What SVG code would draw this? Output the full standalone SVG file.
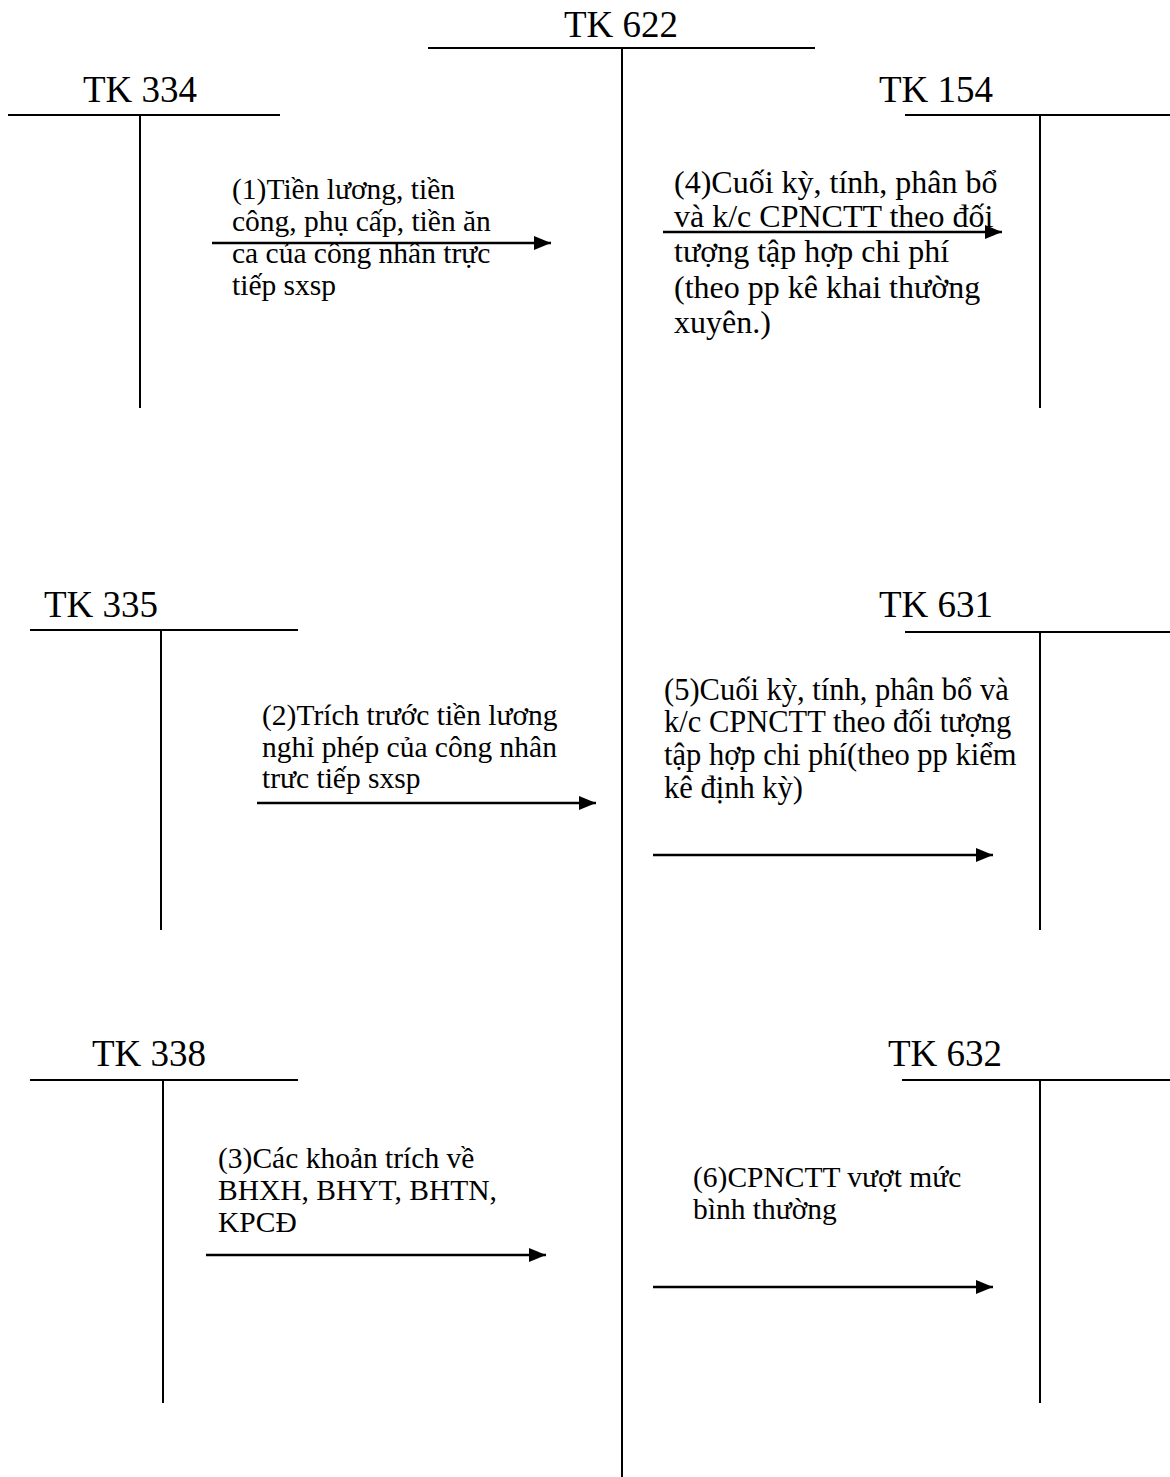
<svg xmlns="http://www.w3.org/2000/svg" width="1170" height="1477" viewBox="0 0 1170 1477">
<style>
.title{font-family:"Liberation Serif","Times New Roman",serif;font-size:37px;fill:#000}
.lbl{font-family:"Liberation Serif","Times New Roman",serif;font-size:29.5px;fill:#000}
.big{font-size:32px}
.mid{font-size:30.5px}
.acc{stroke:#000;stroke-width:2;fill:none}
.arr{stroke:#000;stroke-width:2.5;fill:none;marker-end:url(#ah)}
</style>
<defs>
<marker id="ah" markerUnits="userSpaceOnUse" markerWidth="17" markerHeight="14" refX="17" refY="7" orient="auto">
<path d="M0,0 L17,7 L0,14 Z" fill="#000"/>
</marker>
</defs>
<rect width="1170" height="1477" fill="#fff"/>
<g id="tk622">
<text class="title" x="621" y="37" text-anchor="middle">TK 622</text>
<line class="acc" x1="428" y1="48" x2="815" y2="48"/>
<line class="acc" x1="622" y1="48" x2="622" y2="1477"/>
</g>
<g id="tk334">
<text class="title" x="140" y="102" text-anchor="middle">TK 334</text>
<line class="acc" x1="8" y1="115" x2="280" y2="115"/>
<line class="acc" x1="140" y1="115" x2="140" y2="408"/>
</g>
<g id="tk154">
<text class="title" x="936" y="102" text-anchor="middle">TK 154</text>
<line class="acc" x1="905" y1="115" x2="1170" y2="115"/>
<line class="acc" x1="1040" y1="115" x2="1040" y2="408"/>
</g>
<g id="tk335">
<text class="title" x="101" y="617" text-anchor="middle">TK 335</text>
<line class="acc" x1="30" y1="630" x2="298" y2="630"/>
<line class="acc" x1="161" y1="630" x2="161" y2="930"/>
</g>
<g id="tk631">
<text class="title" x="936" y="617" text-anchor="middle">TK 631</text>
<line class="acc" x1="905" y1="632" x2="1170" y2="632"/>
<line class="acc" x1="1040" y1="632" x2="1040" y2="930"/>
</g>
<g id="tk338">
<text class="title" x="149" y="1066" text-anchor="middle">TK 338</text>
<line class="acc" x1="30" y1="1080" x2="298" y2="1080"/>
<line class="acc" x1="163" y1="1080" x2="163" y2="1403"/>
</g>
<g id="tk632">
<text class="title" x="945" y="1066" text-anchor="middle">TK 632</text>
<line class="acc" x1="902" y1="1080" x2="1170" y2="1080"/>
<line class="acc" x1="1040" y1="1080" x2="1040" y2="1403"/>
</g>
<g id="connectors">
<line class="arr" x1="212" y1="243" x2="551" y2="243"/>
<line class="arr" x1="663" y1="232" x2="1002" y2="232"/>
<line class="arr" x1="257" y1="803" x2="596" y2="803"/>
<line class="arr" x1="653" y1="855" x2="993" y2="855"/>
<line class="arr" x1="206" y1="1255" x2="546" y2="1255"/>
<line class="arr" x1="653" y1="1287" x2="993" y2="1287"/>
</g>
<g id="label1">
<text class="lbl" x="232" y="199">(1)Tiền lương, tiền</text>
<text class="lbl" x="232" y="231">công, phụ cấp, tiền ăn</text>
<text class="lbl" x="232" y="263">ca của công nhân trực</text>
<text class="lbl" x="232" y="295">tiếp sxsp</text>
</g>
<g id="label4">
<text class="lbl big" x="674" y="193">(4)Cuối kỳ, tính, phân bổ</text>
<text class="lbl big" x="674" y="227">và k/c CPNCTT theo đối</text>
<text class="lbl big" x="674" y="262">tượng tập hợp chi phí</text>
<text class="lbl big" x="674" y="298">(theo pp kê khai thường</text>
<text class="lbl big" x="674" y="333">xuyên.)</text>
</g>
<g id="label2">
<text class="lbl" x="262" y="725">(2)Trích trước tiền lương</text>
<text class="lbl" x="262" y="757">nghỉ phép của công nhân</text>
<text class="lbl" x="262" y="788">trưc tiếp sxsp</text>
</g>
<g id="label5">
<text class="lbl mid" x="664" y="700">(5)Cuối kỳ, tính, phân bổ và</text>
<text class="lbl mid" x="664" y="732">k/c CPNCTT theo đối tượng</text>
<text class="lbl mid" x="664" y="765">tập hợp chi phí(theo pp kiểm</text>
<text class="lbl mid" x="664" y="798">kê định kỳ)</text>
</g>
<g id="label3">
<text class="lbl" x="218" y="1168">(3)Các khoản trích về</text>
<text class="lbl" x="218" y="1200">BHXH, BHYT, BHTN,</text>
<text class="lbl" x="218" y="1232">KPCĐ</text>
</g>
<g id="label6">
<text class="lbl" x="693" y="1187">(6)CPNCTT vượt mức</text>
<text class="lbl" x="693" y="1219">bình thường</text>
</g>
</svg>
